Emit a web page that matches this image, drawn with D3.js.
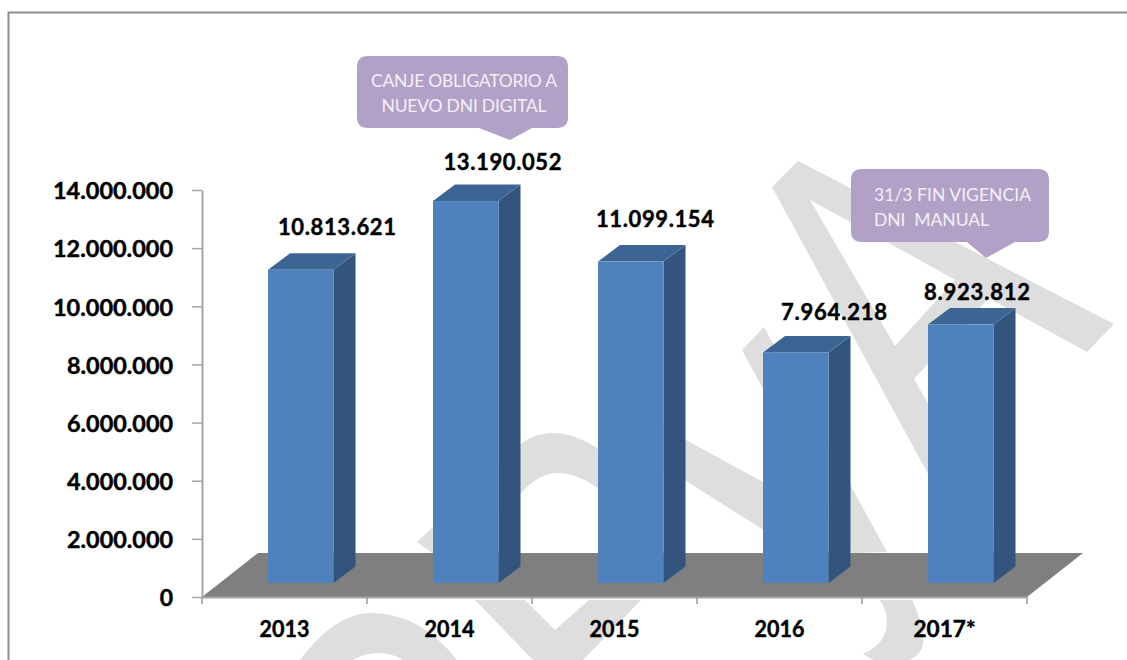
<!DOCTYPE html>
<html><head><meta charset="utf-8">
<style>html,body{margin:0;padding:0;background:#fff;overflow:hidden}svg{display:block}text{font-family:Lato,"Noto Sans",sans-serif}</style>
<script src="https://cdn.jsdelivr.net/npm/d3@7"></script></head><body><svg id="c" width="1127" height="660"></svg>
<script>
const categories=["2013","2014","2015","2016","2017*"];
const values=[10813621,13190052,11099154,7964218,8923812];
const yTicks=[0,2000000,4000000,6000000,8000000,10000000,12000000,14000000];
const callout1Lines=["CANJE OBLIGATORIO A","NUEVO DNI DIGITAL"];
const callout2Lines=["31/3 FIN VIGENCIA","DNI  MANUAL"];

// hand placement of the value labels in the original (px from the bar's front-left corner / top)
const labelDx=[69,69.5,57,71,49];
const labelDy=[-43,-39,-43,-40,-33];

const svg=d3.select("#c");
const loc=d3.formatLocale({decimal:",",thousands:".",grouping:[3],currency:["",""]});
const fmt=loc.format(",d");

const x=d3.scaleBand().domain(categories).range([202,1027]).padding(0);
const y=d3.scaleLinear().domain([0,14000000]).range([597,190]);
const yBar=d3.scaleLinear().domain([0,14000000]).range([583,177.6]);
const barInset=66,barW=65.5,dx=22,dy=16.5;

// frame
svg.append("path").attr("d","M8.5,660V12.5H1127").attr("fill","none").attr("stroke","#8f8f8f").attr("stroke-width",2);

// watermark (decorative background shapes)
const wm="#dedede";
const wmShapes=[
 "M772,187L798,161L1114,324L1087,352L810,200L895,346L955,280L989,298L914,379L926,400L1010,553L971,553L772,187Z",
 "M742,350L764,327L887,552L852,553Z",
 "M640,415L851,530L851,553L800,553L640,452Z",
 "M417,542L522,443Q535,433 553,433Q575,433 600,450L600,490Q578,473 557,473Q540,473 522,492L462,553L432,553Z",
 "M475,600L525,600L555,630L589,600L641,600L583,660L533,660Z",
 "M300,660Q335,613 371,613Q420,613 457,660L403,660Q392,653 378,653Q365,653 353,660Z",
 "M880,600L912,600Q925,628 923,645Q920,655 910,660L873,660L863,654Q887,643 887,622Q887,612 880,600Z"
];
svg.append("g").selectAll("path").data(wmShapes).join("path").attr("d",d=>d).attr("fill",wm);

// floor
const fl=[[202,597],[258,553],[1083,553],[1027,597]];
svg.append("polygon").attr("points",fl.join(" ")).attr("fill","#7f7f7f");

// axes
const yAxis=d3.axisLeft(y).tickValues(yTicks).tickFormat(fmt).tickSize(10).tickSizeOuter(0).tickPadding(19);
const gy=svg.append("g").attr("transform","translate(202,0)").call(yAxis);
const xAxis=d3.axisBottom(x).tickSize(0).tickPadding(24);
const gx=svg.append("g").attr("transform","translate(0,597)").call(xAxis);
gx.append("g").selectAll("line").data([...categories.map(c=>x(c)),x.range()[1]]).join("line")
  .attr("x1",d=>d).attr("x2",d=>d).attr("y1",0).attr("y2",7).attr("stroke","#9a9a9a").attr("stroke-width",1.5);
[gy,gx].forEach(g=>{
  g.selectAll(".domain").attr("stroke","#a6a6a6").attr("stroke-width",2);
  g.selectAll(".tick line").attr("stroke","#a6a6a6").attr("stroke-width",1.5);
  g.selectAll("text").attr("fill","#000").attr("font-size",23).attr("font-weight",700).style("font-family","Lato")
    .attr("stroke","#000").attr("stroke-width",0.45);
});
gy.selectAll(".tick text").attr("dy","0.38em").attr("textLength",d=>d===0?null:(d>=10000000?120:106)).attr("lengthAdjust","spacingAndGlyphs");
gx.selectAll(".tick text").attr("textLength",(d,i)=>i===4?62:50).attr("lengthAdjust","spacingAndGlyphs").attr("dy","0.71em");

// bars
const bars=svg.append("g").selectAll("g").data(categories.map((c,i)=>({c,v:values[i],i}))).join("g");
const bx=d=>x(d.c)+barInset, bottom=yBar(0);
bars.append("path").attr("d",d=>`M${bx(d)+barW},${yBar(d.v)}L${bx(d)+barW+dx},${yBar(d.v)-dy}V${bottom-dy}L${bx(d)+barW},${bottom}Z`)
  .attr("fill","#32547d");
bars.append("path").attr("d",d=>`M${bx(d)},${yBar(d.v)}L${bx(d)+dx},${yBar(d.v)-dy}H${bx(d)+barW+dx}L${bx(d)+barW},${yBar(d.v)}Z`)
  .attr("fill","#3d6593");
bars.append("rect").attr("x",bx).attr("y",d=>yBar(d.v)).attr("width",barW).attr("height",d=>bottom-yBar(d.v))
  .attr("fill","#4f81bd");

// value labels
bars.append("text").attr("x",d=>bx(d)+labelDx[d.i]).attr("y",d=>yBar(d.v)+labelDy[d.i]).attr("dy","0.36em")
  .attr("text-anchor","middle").attr("font-size",22).attr("font-weight",700).attr("fill","#000")
  .attr("stroke","#000").attr("stroke-width",0.45)
  .attr("textLength",d=>d.v>=10000000?118:106).attr("lengthAdjust","spacing").text(d=>fmt(d.v));

// callouts
function callout(xa,xb,ya,yb,r,p){
  return `M${xa+r},${ya}H${xb-r}Q${xb},${ya} ${xb},${ya+r}V${yb-r}Q${xb},${yb} ${xb-r},${yb}H${p[2]}L${p[1]},${p[3]}L${p[0]},${yb}H${xa+r}Q${xa},${yb} ${xa},${yb-r}V${ya+r}Q${xa},${ya} ${xa+r},${ya}Z`;
}
svg.append("path").attr("d",callout(357,568,56,128,11,[479,510,532,140])).attr("fill","#b2a1c7");
svg.append("path").attr("d",callout(851,1049,169,242,11,[967,986,1015,258])).attr("fill","#b2a1c7");
const ct={fill:"#f3eff7",size:17.5};
svg.append("g").selectAll("text").data(callout1Lines).join("text")
  .attr("x",464).attr("y",(d,i)=>87+i*25).attr("text-anchor","middle").attr("font-size",ct.size).attr("fill",ct.fill)
  .attr("textLength",(d,i)=>i?165:186).attr("lengthAdjust","spacing").text(d=>d);
svg.append("g").selectAll("text").data(callout2Lines).join("text")
  .attr("x",874).attr("y",(d,i)=>201+i*25).attr("font-size",ct.size).attr("fill",ct.fill).attr("xml:space","preserve").style("white-space","pre")
  .attr("textLength",(d,i)=>i?115:157).attr("lengthAdjust","spacing").text(d=>d);
</script></body></html>
